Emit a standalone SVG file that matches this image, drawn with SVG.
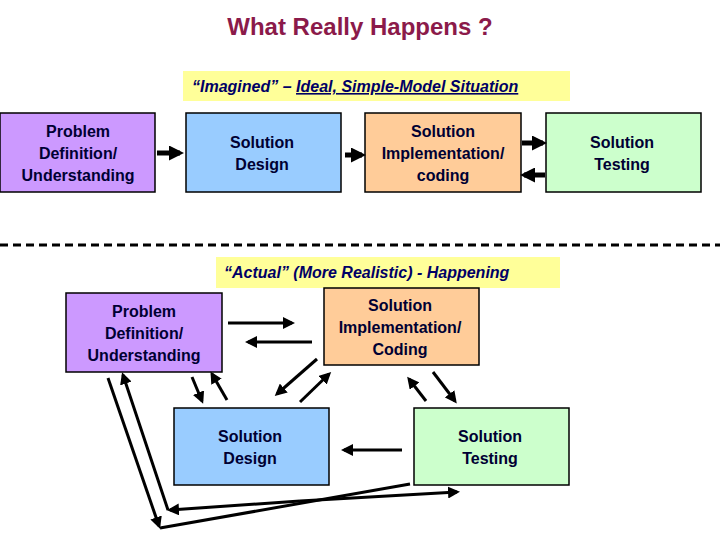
<svg xmlns="http://www.w3.org/2000/svg" width="720" height="540" viewBox="0 0 720 540">
<style>
.b{stroke:#000;stroke-width:1.5}
.t{font-family:"Liberation Sans",Arial,sans-serif;font-weight:bold;font-size:16px;fill:#000033;text-anchor:middle}
.c{font-family:"Liberation Sans",Arial,sans-serif;font-weight:bold;font-style:italic;font-size:16px;fill:#000066}
.a{stroke:#000;stroke-width:3;fill:none;marker-end:url(#h)}
.l{stroke:#000;stroke-width:3;fill:none}
.k{stroke:#000;stroke-width:5;fill:none;marker-end:url(#H)}
</style>
<defs>
<marker id="h" markerWidth="4" markerHeight="4" refX="3" refY="2" orient="auto"><path d="M0,0L4,2L0,4z" fill="#000"/></marker>
<marker id="H" markerWidth="3" markerHeight="3" refX="2.2" refY="1.5" orient="auto"><path d="M0,0L3,1.5L0,3z" fill="#000"/></marker>
</defs>
<rect width="720" height="540" fill="#fff"/>
<text x="360" y="35" font-family="Liberation Sans,Arial,sans-serif" font-weight="bold" font-size="24" fill="#8B1A4A" text-anchor="middle">What Really Happens ?</text>
<rect x="183" y="71" width="387" height="30" fill="#FFFF99"/>
<text x="192" y="92" class="c">“Imagined” – <tspan text-decoration="underline">Ideal, Simple-Model Situation</tspan></text>
<g id="tp"><rect class="b" x="0" y="113" width="155" height="79" fill="#CC99FF"/><text class="t" x="78" y="137">Problem</text><text class="t" x="78" y="159">Definition/</text><text class="t" x="78" y="181">Understanding</text></g>
<g id="td"><rect class="b" x="186" y="113" width="155" height="79" fill="#99CCFF"/><text class="t" x="262" y="148">Solution</text><text class="t" x="262" y="170">Design</text></g>
<g id="ti"><rect class="b" x="365" y="113" width="156" height="79" fill="#FFCC99"/><text class="t" x="443" y="137">Solution</text><text class="t" x="443" y="159">Implementation/</text><text class="t" x="443" y="181">coding</text></g>
<g id="tt"><rect class="b" x="546" y="113" width="155" height="79" fill="#CCFFCC"/><text class="t" x="622" y="148">Solution</text><text class="t" x="622" y="170">Testing</text></g>
<line x1="0" y1="245" x2="720" y2="245" stroke="#000" stroke-width="3" stroke-dasharray="8,5"/>
<rect x="216" y="257" width="344" height="31" fill="#FFFF99"/>
<text x="224" y="278" class="c" fill="#000033">“Actual”  (More Realistic) - Happening</text>
<g id="bp"><rect class="b" x="66" y="293" width="156" height="79" fill="#CC99FF"/><text class="t" x="144" y="317">Problem</text><text class="t" x="144" y="339">Definition/</text><text class="t" x="144" y="361">Understanding</text></g>
<g id="bi"><rect class="b" x="324" y="288" width="155" height="77" fill="#FFCC99"/><text class="t" x="400" y="311">Solution</text><text class="t" x="400" y="333">Implementation/</text><text class="t" x="400" y="355">Coding</text></g>
<g id="bd"><rect class="b" x="174" y="408" width="155" height="77" fill="#99CCFF"/><text class="t" x="250" y="442">Solution</text><text class="t" x="250" y="464">Design</text></g>
<g id="bt"><rect class="b" x="414" y="408" width="155" height="77" fill="#CCFFCC"/><text class="t" x="490" y="442">Solution</text><text class="t" x="490" y="464">Testing</text></g>
<g id="connectors">
<line class="k" x1="157" y1="153" x2="180" y2="153"/>
<line class="k" x1="345" y1="155" x2="362" y2="155"/>
<line class="k" x1="522" y1="143" x2="543" y2="143"/>
<line class="k" x1="545" y1="175" x2="524" y2="175"/>
<line class="a" x1="228" y1="323" x2="292" y2="323"/>
<line class="a" x1="312" y1="342" x2="248" y2="342"/>
<line class="a" x1="317" y1="359" x2="277" y2="394"/>
<line class="a" x1="300" y1="402" x2="329" y2="374"/>
<line class="a" x1="192" y1="377" x2="202" y2="401"/>
<line class="a" x1="227" y1="400" x2="212" y2="374"/>
<line class="a" x1="433" y1="372" x2="455" y2="401"/>
<line class="a" x1="426" y1="401" x2="409" y2="379"/>
<line class="a" x1="402" y1="450" x2="344" y2="450"/>
<line class="a" x1="108" y1="378" x2="159" y2="526"/>
<line class="l" x1="160" y1="528" x2="410" y2="484"/>
<line class="a" x1="168" y1="510" x2="123" y2="375"/>
<line class="a" x1="300" y1="501" x2="457" y2="492"/>
<line class="a" x1="300" y1="501" x2="170" y2="510"/>
</g>
</svg>
